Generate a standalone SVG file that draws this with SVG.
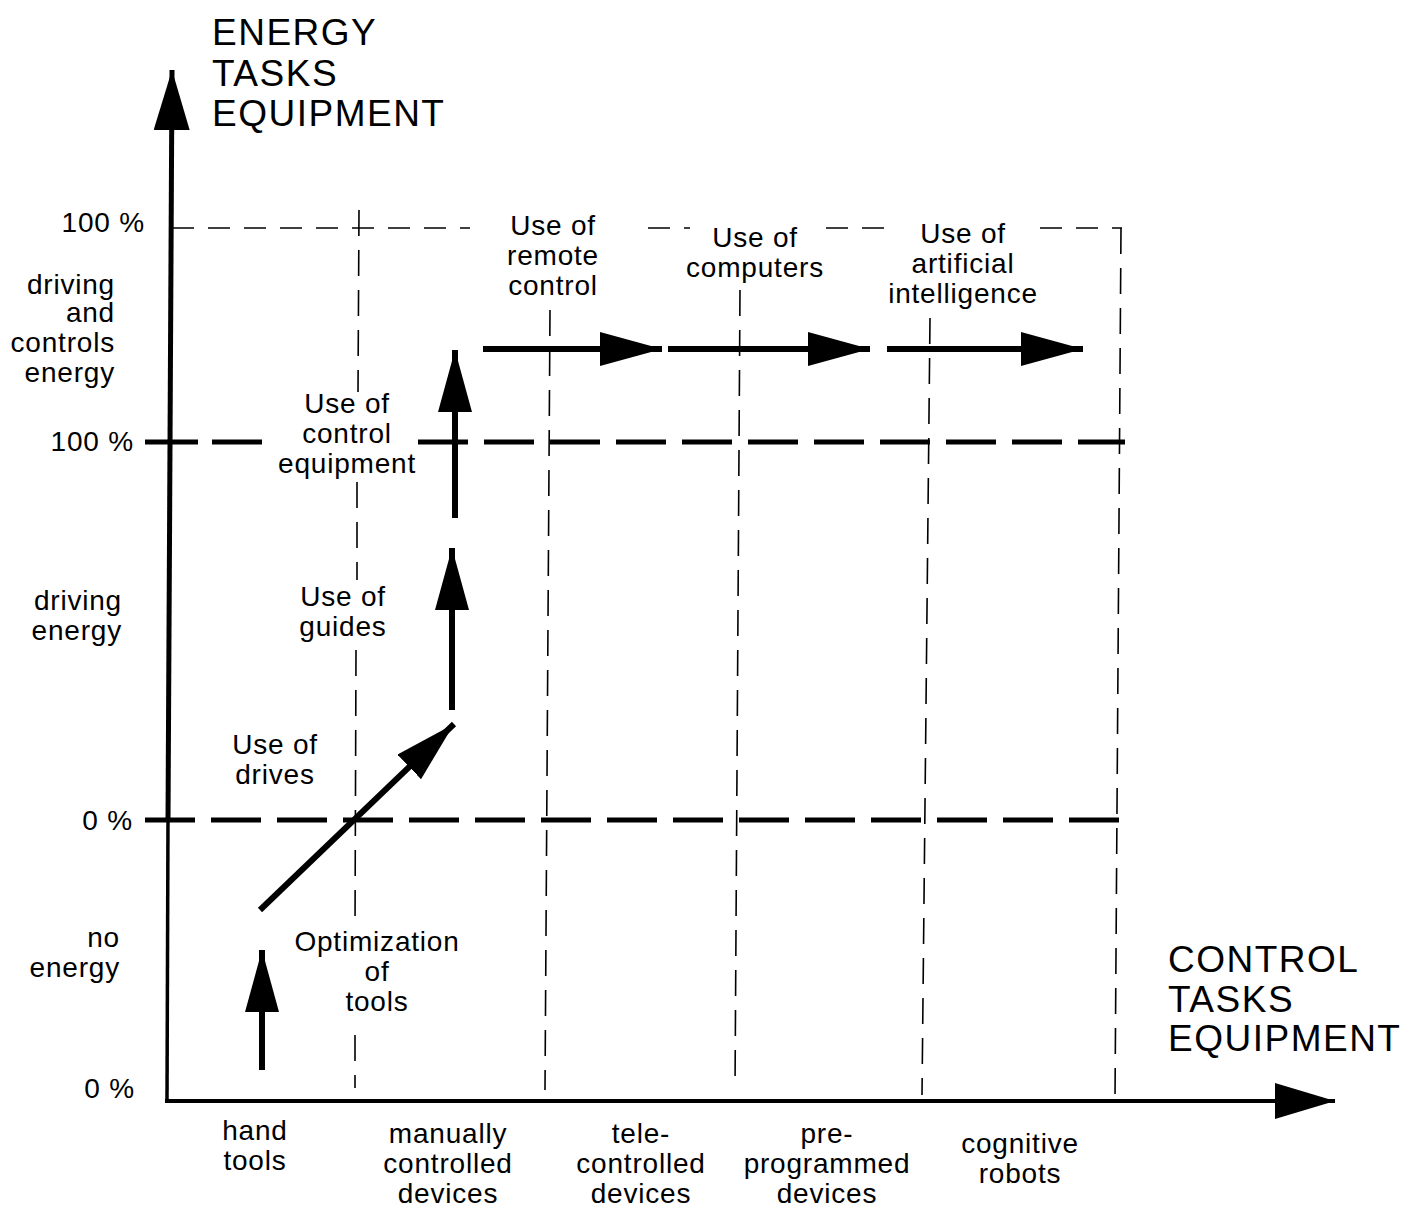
<svg xmlns="http://www.w3.org/2000/svg" width="1413" height="1210" viewBox="0 0 1413 1210">
<defs>
<marker id="head" markerUnits="userSpaceOnUse" markerWidth="64" markerHeight="36" refX="62" refY="17" orient="auto">
<path d="M0,0 L62,17 L0,34 z" fill="#000"/>
</marker>
<marker id="axhead" markerUnits="userSpaceOnUse" markerWidth="62" markerHeight="38" refX="60" refY="18" orient="auto">
<path d="M0,0 L60,18 L0,36 z" fill="#000"/>
</marker>
<style>
text{font-family:"Liberation Sans",Arial,sans-serif;font-size:28px;letter-spacing:0.8px;fill:#000}
.big{font-size:37px;letter-spacing:1.5px}
.c{text-anchor:middle}
.r{text-anchor:end}
.thin{stroke:#000;stroke-width:1.6;fill:none;stroke-dasharray:26 14}
.top{stroke:#000;stroke-width:1.6;fill:none;stroke-dasharray:22 14}
.thick{stroke:#000;stroke-width:5;fill:none;stroke-dasharray:50 16}
.axis{stroke:#000;stroke-width:5;fill:none}
.axthin{stroke:#000;stroke-width:3.5;fill:none}
.arr{stroke:#000;stroke-width:6;fill:none;marker-end:url(#head)}
</style>
</defs>
<rect width="1413" height="1210" fill="#fff"/>

<g id="grid">
<path class="top" d="M172,228 H470 M648,228 H690 M826,228 H888 M1040,228 H1122"/>
<path class="thin" d="M1121,228 L1115,1100"/>
<path class="thin" d="M359,210 L358,392 M357,482 L357,580 M356,650 L355,930 M355,1035 L355,1088"/>
<path class="thin" d="M550,310 L545,1090"/>
<path class="thin" d="M740,290 L735,1090"/>
<path class="thin" d="M930,318 L922,1095"/>
<path class="thick" style="stroke-dasharray:53 14" d="M145,442 H262"/>
<path class="thick" d="M418,442 H1125"/>
<path class="thick" d="M145,820 H1122"/>
</g>

<g id="axes">
<path class="axthin" d="M167,1102 L168,818"/>
<path class="axis" d="M168,822 L172,70" marker-end="url(#axhead)"/>
<path class="axis" style="stroke-width:4" d="M165,1101 L1335,1101" marker-end="url(#axhead)"/>
</g>

<g id="connectors">
<path class="arr" d="M262,1070 L262,950"/>
<path class="arr" d="M260,910 L454,724"/>
<path class="arr" d="M452,710 L452,548"/>
<path class="arr" d="M455,518 L455,350"/>
<path class="arr" d="M483,349 L662,349"/>
<path class="arr" d="M668,349 L870,349"/>
<path class="arr" d="M887,349 L1083,349"/>
</g>

<g id="y-title"><text class="big" x="212" y="45">ENERGY</text><text class="big" x="212" y="86">TASKS</text><text class="big" x="212" y="126">EQUIPMENT</text></g>
<g id="x-title"><text class="big" x="1168" y="972">CONTROL</text><text class="big" x="1168" y="1012">TASKS</text><text class="big" x="1168" y="1051">EQUIPMENT</text></g>

<g id="y-labels">
<text class="r" x="145" y="232">100 %</text>
<text class="r" x="115" y="294">driving</text><text class="r" x="115" y="322">and</text><text class="r" x="115" y="352">controls</text><text class="r" x="115" y="382">energy</text>
<text class="r" x="134" y="451">100 %</text>
<text class="r" x="122" y="610">driving</text><text class="r" x="122" y="640">energy</text>
<text class="r" x="133" y="830">0 %</text>
<text class="r" x="120" y="947">no</text><text class="r" x="120" y="977">energy</text>
<text class="r" x="135" y="1098">0 %</text>
</g>

<g id="stage-optimization"><text class="c" x="377" y="951">Optimization</text><text class="c" x="377" y="981">of</text><text class="c" x="377" y="1011">tools</text></g>
<g id="stage-drives"><text class="c" x="275" y="754">Use of</text><text class="c" x="275" y="784">drives</text></g>
<g id="stage-guides"><text class="c" x="343" y="606">Use of</text><text class="c" x="343" y="636">guides</text></g>
<g id="stage-control"><text class="c" x="347" y="413">Use of</text><text class="c" x="347" y="443">control</text><text class="c" x="347" y="473">equipment</text></g>
<g id="stage-remote"><text class="c" x="553" y="235">Use of</text><text class="c" x="553" y="265">remote</text><text class="c" x="553" y="295">control</text></g>
<g id="stage-computers"><text class="c" x="755" y="247">Use of</text><text class="c" x="755" y="277">computers</text></g>
<g id="stage-ai"><text class="c" x="963" y="243">Use of</text><text class="c" x="963" y="273">artificial</text><text class="c" x="963" y="303">intelligence</text></g>

<g id="x-hand"><text class="c" x="255" y="1140">hand</text><text class="c" x="255" y="1170">tools</text></g>
<g id="x-manual"><text class="c" x="448" y="1143">manually</text><text class="c" x="448" y="1173">controlled</text><text class="c" x="448" y="1203">devices</text></g>
<g id="x-tele"><text class="c" x="641" y="1143">tele-</text><text class="c" x="641" y="1173">controlled</text><text class="c" x="641" y="1203">devices</text></g>
<g id="x-pre"><text class="c" x="827" y="1143">pre-</text><text class="c" x="827" y="1173">programmed</text><text class="c" x="827" y="1203">devices</text></g>
<g id="x-cognitive"><text class="c" x="1020" y="1153">cognitive</text><text class="c" x="1020" y="1183">robots</text></g>
</svg>
